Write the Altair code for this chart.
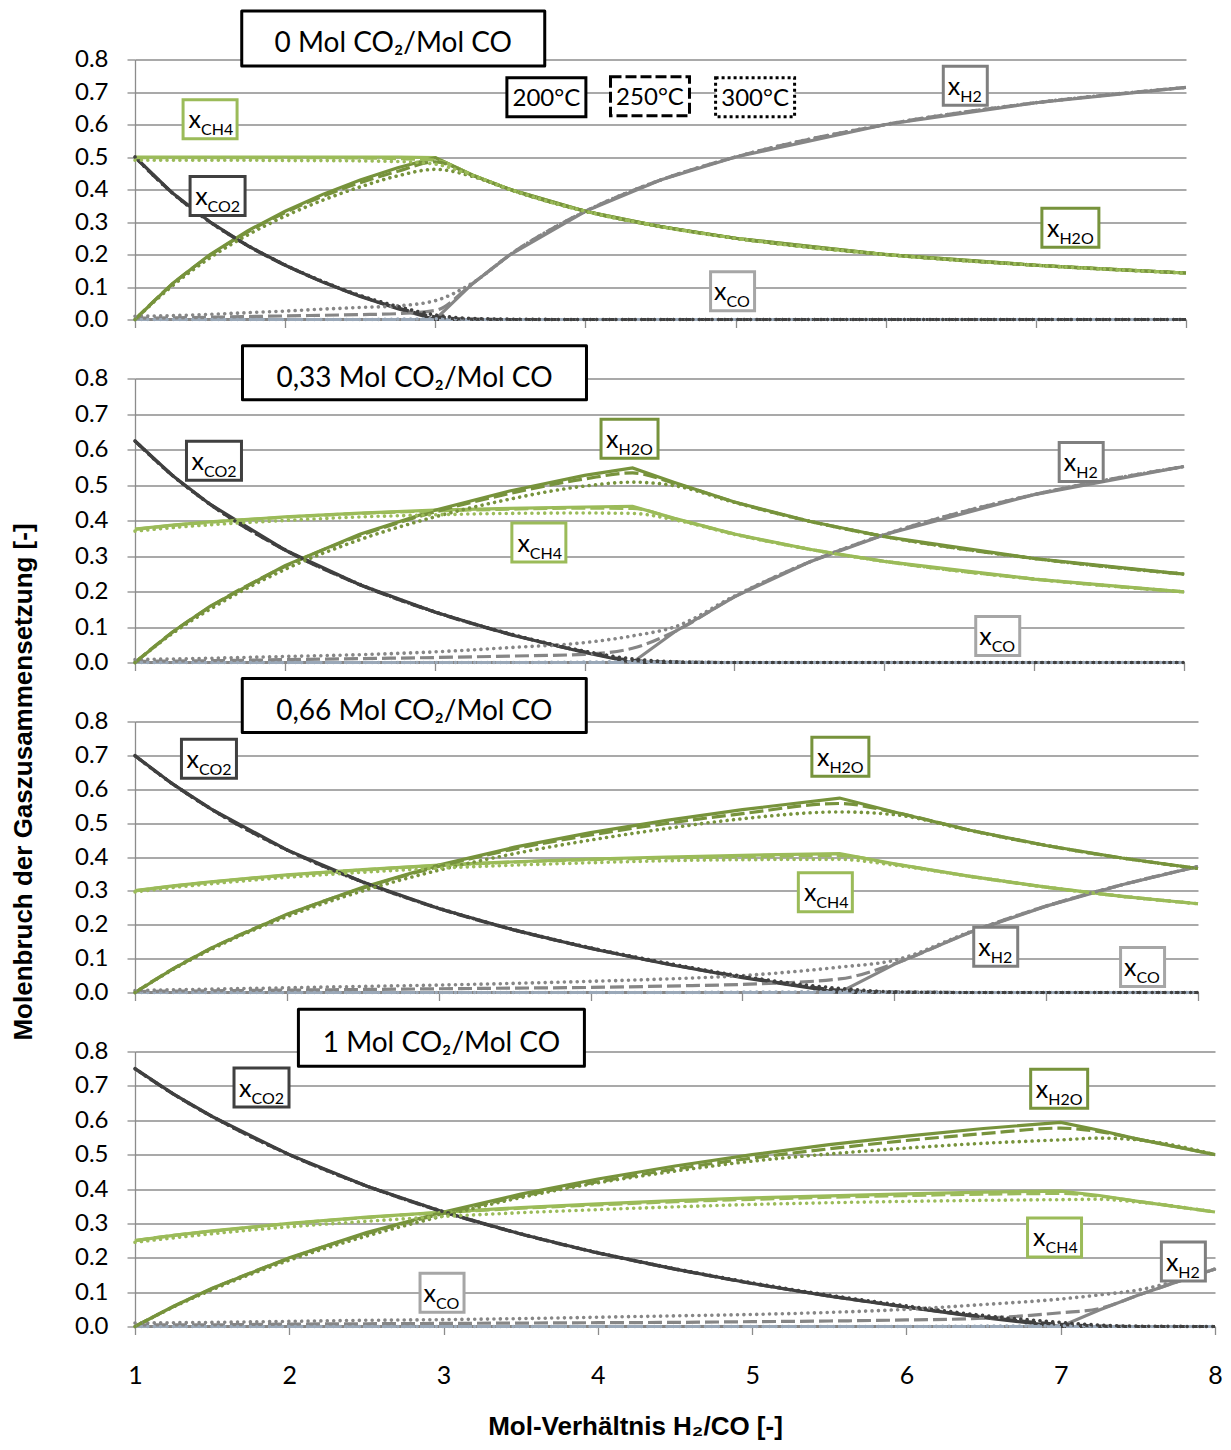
import altair as alt
import pandas as pd

# ---------------- data ----------------
# Panel 1: 0 Mol CO2/Mol CO
X1 = [1, 1.25, 1.5, 1.75, 2, 2.25, 2.5, 2.75, 3, 3.25, 3.5, 4, 4.5, 5, 6, 7, 8]
P1_CO2_200 = [0.5, 0.389, 0.3, 0.227, 0.167, 0.115, 0.071, 0.033, 0.0, 0.0, 0.0, 0.0, 0.0, 0.0, 0.0, 0.0, 0.0]
P1_CO2_250 = [0.5, 0.389, 0.3, 0.227, 0.167, 0.116, 0.072, 0.036, 0.008, 0.001, 0.0, 0.0, 0.0, 0.0, 0.0, 0.0, 0.0]
P1_CO2_300 = [0.5, 0.389, 0.3, 0.228, 0.168, 0.117, 0.074, 0.04, 0.014, 0.003, 0.001, 0.0, 0.0, 0.0, 0.0, 0.0, 0.0]
P1_CH4_200 = [0.5, 0.5, 0.5, 0.5, 0.5, 0.5, 0.5, 0.5, 0.498, 0.444, 0.4, 0.333, 0.286, 0.25, 0.2, 0.167, 0.143]
P1_CH4_250 = [0.498, 0.498, 0.498, 0.498, 0.498, 0.498, 0.497, 0.495, 0.49, 0.444, 0.4, 0.333, 0.286, 0.25, 0.2, 0.167, 0.143]
P1_CH4_300 = [0.49, 0.49, 0.49, 0.49, 0.489, 0.489, 0.488, 0.486, 0.478, 0.443, 0.4, 0.333, 0.286, 0.25, 0.2, 0.167, 0.143]
P1_H2O_200 = [0.0, 0.111, 0.2, 0.273, 0.333, 0.385, 0.429, 0.467, 0.498, 0.444, 0.4, 0.333, 0.286, 0.25, 0.2, 0.167, 0.143]
P1_H2O_250 = [0.0, 0.109, 0.197, 0.269, 0.329, 0.379, 0.421, 0.456, 0.485, 0.443, 0.4, 0.333, 0.286, 0.25, 0.2, 0.167, 0.143]
P1_H2O_300 = [0.0, 0.104, 0.19, 0.26, 0.318, 0.367, 0.408, 0.442, 0.462, 0.44, 0.399, 0.333, 0.286, 0.25, 0.2, 0.167, 0.143]
P1_H2_200 = [0.0, 0.0, 0.0, 0.0, 0.0, 0.0, 0.0, 0.0, 0.0, 0.111, 0.2, 0.333, 0.429, 0.5, 0.6, 0.667, 0.714]
P1_H2_250 = [0.004, 0.005, 0.007, 0.009, 0.011, 0.013, 0.015, 0.018, 0.028, 0.111, 0.2, 0.333, 0.429, 0.5, 0.6, 0.667, 0.714]
P1_H2_300 = [0.01, 0.012, 0.016, 0.021, 0.026, 0.032, 0.037, 0.042, 0.058, 0.113, 0.2, 0.333, 0.429, 0.5, 0.6, 0.667, 0.714]
P1_CO_200 = [0.0, 0.0, 0.0, 0.0, 0.0, 0.0, 0.0, 0.0, 0.0, 0.0, 0.0, 0.0, 0.0, 0.0, 0.0, 0.0, 0.0]
P1_CO_250 = [0.0, 0.0, 0.0, 0.0, 0.0, 0.0, 0.0, 0.0, 0.0, 0.0, 0.0, 0.0, 0.0, 0.0, 0.0, 0.0, 0.0]
P1_CO_300 = [0.0, 0.0, 0.0, 0.0, 0.0, 0.0, 0.0, 0.001, 0.002, 0.001, 0.0, 0.0, 0.0, 0.0, 0.0, 0.0, 0.0]

# Panel 2: 0,33 Mol CO2/Mol CO
X2 = [1, 1.25, 1.5, 2, 2.5, 3, 3.5, 4, 4.32, 4.6, 5, 5.5, 6, 7, 8]
P2_CO2_200 = [0.624, 0.527, 0.446, 0.317, 0.219, 0.142, 0.079, 0.028, 0.0, 0.0, 0.0, 0.0, 0.0, 0.0, 0.0]
P2_CO2_250 = [0.624, 0.527, 0.446, 0.317, 0.219, 0.142, 0.08, 0.03, 0.006, 0.001, 0.0, 0.0, 0.0, 0.0, 0.0]
P2_CO2_300 = [0.624, 0.527, 0.446, 0.318, 0.22, 0.143, 0.081, 0.032, 0.01, 0.002, 0.0, 0.0, 0.0, 0.0, 0.0]
P2_CH4_200 = [0.376, 0.387, 0.396, 0.41, 0.421, 0.429, 0.434, 0.438, 0.44, 0.406, 0.362, 0.319, 0.285, 0.235, 0.199]
P2_CH4_250 = [0.375, 0.386, 0.395, 0.409, 0.42, 0.427, 0.432, 0.435, 0.434, 0.405, 0.362, 0.319, 0.285, 0.235, 0.199]
P2_CH4_300 = [0.37, 0.38, 0.388, 0.4, 0.41, 0.416, 0.42, 0.421, 0.42, 0.402, 0.361, 0.319, 0.285, 0.235, 0.199]
P2_H2O_200 = [0.0, 0.086, 0.158, 0.273, 0.361, 0.429, 0.483, 0.527, 0.548, 0.507, 0.452, 0.398, 0.355, 0.293, 0.249]
P2_H2O_250 = [0.0, 0.085, 0.156, 0.27, 0.357, 0.424, 0.476, 0.517, 0.534, 0.505, 0.452, 0.398, 0.355, 0.293, 0.249]
P2_H2O_300 = [0.0, 0.082, 0.15, 0.262, 0.346, 0.41, 0.46, 0.497, 0.508, 0.498, 0.451, 0.398, 0.355, 0.293, 0.249]
P2_H2_200 = [0.0, 0.0, 0.0, 0.0, 0.0, 0.0, 0.0, 0.0, 0.0, 0.086, 0.185, 0.283, 0.36, 0.473, 0.552]
P2_H2_250 = [0.003, 0.004, 0.005, 0.008, 0.011, 0.014, 0.018, 0.023, 0.04, 0.087, 0.185, 0.283, 0.36, 0.473, 0.552]
P2_H2_300 = [0.008, 0.01, 0.012, 0.017, 0.022, 0.03, 0.042, 0.056, 0.075, 0.1, 0.187, 0.283, 0.36, 0.473, 0.552]
P2_CO_200 = [0.0, 0.0, 0.0, 0.0, 0.0, 0.0, 0.0, 0.0, 0.0, 0.0, 0.0, 0.0, 0.0, 0.0, 0.0]
P2_CO_250 = [0.0, 0.0, 0.0, 0.0, 0.0, 0.0, 0.0, 0.0, 0.0, 0.0, 0.0, 0.0, 0.0, 0.0, 0.0]
P2_CO_300 = [0.0, 0.0, 0.0, 0.0, 0.0, 0.0, 0.0, 0.001, 0.002, 0.001, 0.0, 0.0, 0.0, 0.0, 0.0]

# Panel 3: 0,66 Mol CO2/Mol CO
X3 = [1, 1.25, 1.5, 2, 2.5, 3, 3.5, 4, 4.5, 5, 5.64, 6, 6.5, 7, 7.5, 8]
P3_CO2_200 = [0.699, 0.615, 0.542, 0.421, 0.326, 0.248, 0.184, 0.13, 0.084, 0.044, 0.0, 0.0, 0.0, 0.0, 0.0, 0.0]
P3_CO2_250 = [0.699, 0.615, 0.542, 0.421, 0.326, 0.248, 0.184, 0.131, 0.085, 0.046, 0.007, 0.001, 0.0, 0.0, 0.0, 0.0]
P3_CO2_300 = [0.699, 0.615, 0.542, 0.421, 0.326, 0.249, 0.185, 0.132, 0.087, 0.048, 0.012, 0.002, 0.0, 0.0, 0.0, 0.0]
P3_CH4_200 = [0.301, 0.315, 0.327, 0.347, 0.363, 0.376, 0.386, 0.394, 0.4, 0.405, 0.41, 0.38, 0.343, 0.311, 0.284, 0.262]
P3_CH4_250 = [0.3, 0.314, 0.326, 0.346, 0.362, 0.375, 0.385, 0.392, 0.397, 0.401, 0.404, 0.379, 0.343, 0.311, 0.284, 0.262]
P3_CH4_300 = [0.297, 0.31, 0.321, 0.34, 0.355, 0.367, 0.376, 0.383, 0.389, 0.392, 0.393, 0.376, 0.343, 0.311, 0.284, 0.262]
P3_H2O_200 = [0.0, 0.07, 0.131, 0.231, 0.311, 0.376, 0.429, 0.472, 0.508, 0.54, 0.574, 0.533, 0.479, 0.434, 0.397, 0.366]
P3_H2O_250 = [0.0, 0.07, 0.13, 0.229, 0.308, 0.372, 0.424, 0.465, 0.499, 0.528, 0.558, 0.532, 0.479, 0.434, 0.397, 0.366]
P3_H2O_300 = [0.0, 0.068, 0.127, 0.224, 0.3, 0.361, 0.41, 0.45, 0.484, 0.513, 0.533, 0.525, 0.478, 0.434, 0.397, 0.366]
P3_H2_200 = [0.0, 0.0, 0.0, 0.0, 0.0, 0.0, 0.0, 0.0, 0.0, 0.0, 0.0, 0.083, 0.178, 0.255, 0.318, 0.372]
P3_H2_250 = [0.003, 0.004, 0.005, 0.007, 0.009, 0.011, 0.013, 0.015, 0.019, 0.024, 0.04, 0.085, 0.178, 0.255, 0.318, 0.372]
P3_H2_300 = [0.006, 0.008, 0.01, 0.014, 0.018, 0.022, 0.027, 0.033, 0.04, 0.05, 0.075, 0.095, 0.179, 0.255, 0.318, 0.372]
P3_CO_200 = [0.0, 0.0, 0.0, 0.0, 0.0, 0.0, 0.0, 0.0, 0.0, 0.0, 0.0, 0.0, 0.0, 0.0, 0.0, 0.0]
P3_CO_250 = [0.0, 0.0, 0.0, 0.0, 0.0, 0.0, 0.0, 0.0, 0.0, 0.0, 0.0, 0.0, 0.0, 0.0, 0.0, 0.0]
P3_CO_300 = [0.0, 0.0, 0.0, 0.0, 0.0, 0.0, 0.0, 0.0, 0.0, 0.001, 0.002, 0.001, 0.0, 0.0, 0.0, 0.0]

# Panel 4: 1 Mol CO2/Mol CO
X4 = [1, 1.25, 1.5, 2, 2.5, 3, 3.5, 4, 4.5, 5, 5.5, 6, 6.5, 7, 7.25, 7.5, 8]
P4_CO2_200 = [0.75, 0.676, 0.611, 0.5, 0.409, 0.333, 0.269, 0.214, 0.167, 0.125, 0.088, 0.056, 0.026, 0.0, 0.0, 0.0, 0.0]
P4_CO2_250 = [0.75, 0.676, 0.611, 0.5, 0.409, 0.333, 0.269, 0.214, 0.167, 0.125, 0.089, 0.057, 0.028, 0.006, 0.001, 0.0, 0.0]
P4_CO2_300 = [0.75, 0.676, 0.611, 0.5, 0.409, 0.334, 0.27, 0.215, 0.168, 0.127, 0.091, 0.06, 0.032, 0.012, 0.004, 0.001, 0.0]
P4_CH4_200 = [0.25, 0.265, 0.278, 0.3, 0.318, 0.333, 0.346, 0.357, 0.366, 0.374, 0.38, 0.386, 0.391, 0.394, 0.381, 0.364, 0.333]
P4_CH4_250 = [0.25, 0.265, 0.277, 0.299, 0.317, 0.332, 0.344, 0.354, 0.363, 0.37, 0.376, 0.381, 0.385, 0.387, 0.379, 0.364, 0.333]
P4_CH4_300 = [0.245, 0.258, 0.27, 0.29, 0.306, 0.32, 0.331, 0.34, 0.348, 0.355, 0.36, 0.364, 0.367, 0.369, 0.37, 0.362, 0.333]
P4_H2O_200 = [0.0, 0.059, 0.111, 0.2, 0.273, 0.333, 0.385, 0.429, 0.467, 0.5, 0.529, 0.554, 0.576, 0.594, 0.571, 0.545, 0.5]
P4_H2O_250 = [0.0, 0.058, 0.11, 0.198, 0.27, 0.329, 0.379, 0.421, 0.458, 0.49, 0.517, 0.541, 0.561, 0.577, 0.567, 0.545, 0.5]
P4_H2O_300 = [0.0, 0.057, 0.107, 0.193, 0.263, 0.322, 0.375, 0.418, 0.452, 0.481, 0.502, 0.519, 0.533, 0.543, 0.548, 0.543, 0.5]
P4_H2_200 = [0.0, 0.0, 0.0, 0.0, 0.0, 0.0, 0.0, 0.0, 0.0, 0.0, 0.0, 0.0, 0.0, 0.0, 0.048, 0.091, 0.167]
P4_H2_250 = [0.004, 0.005, 0.005, 0.007, 0.008, 0.009, 0.01, 0.011, 0.012, 0.014, 0.016, 0.019, 0.024, 0.04, 0.052, 0.091, 0.167]
P4_H2_300 = [0.01, 0.011, 0.012, 0.015, 0.018, 0.02, 0.023, 0.027, 0.031, 0.035, 0.041, 0.05, 0.064, 0.08, 0.092, 0.106, 0.167]
P4_CO_200 = [0.0, 0.0, 0.0, 0.0, 0.0, 0.0, 0.0, 0.0, 0.0, 0.0, 0.0, 0.0, 0.0, 0.0, 0.0, 0.0, 0.0]
P4_CO_250 = [0.0, 0.0, 0.0, 0.0, 0.0, 0.0, 0.0, 0.0, 0.0, 0.0, 0.0, 0.0, 0.0, 0.0, 0.0, 0.0, 0.0]
P4_CO_300 = [0.0, 0.0, 0.0, 0.0, 0.0, 0.0, 0.0, 0.0, 0.0, 0.0, 0.0, 0.0, 0.001, 0.002, 0.001, 0.0, 0.0]

# label boxes (species label, anchor x, anchor y)
P1_LAB_KIND = ["CH4", "CO2", "H2", "H2O", "CO"]
P1_LAB_X = [1.50, 1.55, 6.53, 7.23, 4.98]
P1_LAB_Y = [0.616, 0.380, 0.719, 0.282, 0.087]
P2_LAB_KIND = ["CO2", "H2O", "CH4", "H2", "CO"]
P2_LAB_X = [1.527, 4.30, 3.695, 7.314, 6.757]
P2_LAB_Y = [0.568, 0.630, 0.338, 0.565, 0.075]
P3_LAB_KIND = ["CO2", "H2O", "CH4", "H2", "CO"]
P3_LAB_X = [1.487, 5.645, 5.546, 6.668, 7.635]
P3_LAB_Y = [0.690, 0.696, 0.296, 0.135, 0.075]
P4_LAB_KIND = ["CO2", "CO", "H2O", "CH4", "H2"]
P4_LAB_X = [1.82, 2.99, 6.99, 6.96, 7.795]
P4_LAB_Y = [0.695, 0.098, 0.692, 0.259, 0.189]

TITLES = ["0 Mol CO\u2082/Mol CO", "0,33 Mol CO\u2082/Mol CO", "0,66 Mol CO\u2082/Mol CO", "1 Mol CO\u2082/Mol CO"]
TITLE_X = [2.72, 2.865, 2.839, 2.986]
TITLE_Y = [0.865, 0.816, 0.847, 0.840]

TEMP_LABELS = ["200°C", "250°C", "300°C"]
TEMP_X = [3.74, 4.43, 5.13]
TEMP_Y = [0.684, 0.687, 0.684]

X_TICKS = [1, 2, 3, 4, 5, 6, 7, 8]
Y_TICKS = [0.0, 0.1, 0.2, 0.3, 0.4, 0.5, 0.6, 0.7, 0.8]

# ---------------- styles ----------------
GRID = "#8C8C8C"
LINE_COLOR = {"CO": "#9AA8B8", "H2": "#868686", "CO2": "#404040", "CH4": "#9BBB59", "H2O": "#77933C"}
BOX_COLOR = {"CO": "#A6A6A6", "H2": "#7F7F7F", "CO2": "#404040", "CH4": "#9BBB59", "H2O": "#77933C"}
BOX_W = {"CO2": 58, "CH4": 57, "H2O": 60, "H2": 47, "CO": 47}
SPLIT = {"CO2": -10, "CH4": -9, "H2O": -11, "H2": -5, "CO": -6}
TITLE_BOX = [(306, 58), (347, 57), (347, 57), (289, 60)]
WIDTHS = [1051, 1049, 1063, 1080]
HEIGHTS = [260, 284, 271, 275]
FONT = "Lato"
BOLD_FONT = "Liberation Sans"


def rect_path(w, h):
    hw = w / 2 - 1.5
    hh = h / 2 - 1.5
    return f"M{-hw},{-hh}L{hw},{-hh}L{hw},{hh}L{-hw},{hh}Z"


def make_panel(i, X, series, kinds, lxs, lys, last, ytitle, legend):
    if last:
        xaxis = alt.Axis(values=X_TICKS, format="d", labels=True, labelFont=FONT, labelFontSize=25,
                         labelColor="black", labelPadding=29, labelFlush=False, tickSize=8,
                         tickColor=GRID, tickWidth=1.3, domainColor=GRID, domainWidth=1.3, grid=False,
                         title="Mol-Verhältnis H\u2082/CO [-]", titleFont=BOLD_FONT, titleFontSize=26,
                         titleFontWeight="bold", titleColor="black", titleX=500, titleY=108,
                         titleAlign="center", titleBaseline="alphabetic")
    else:
        xaxis = alt.Axis(values=X_TICKS, labels=False, tickSize=8, tickColor=GRID, tickWidth=1.3,
                         domainColor=GRID, domainWidth=1.3, grid=False, title=None)
    yargs = dict(values=Y_TICKS, format=".1f", labelFont=FONT, labelFontSize=24, labelColor="black",
                 labelPadding=19, tickSize=8, tickColor=GRID, tickWidth=1.3, domainColor=GRID,
                 domainWidth=1.3, grid=True, gridColor=GRID, gridWidth=1.3)
    if ytitle:
        yaxis = alt.Axis(title="Molenbruch der Gaszusammensetzung [-]", titleFont=BOLD_FONT,
                         titleFontSize=26, titleFontWeight="bold", titleColor="black", titleAngle=270,
                         titleX=-103.5, titleY=60, titleAlign="center", titleBaseline="alphabetic",
                         **yargs)
    else:
        yaxis = alt.Axis(title=None, **yargs)
    xenc = alt.X("x:Q", scale=alt.Scale(domain=[1, 8], nice=False, zero=False), axis=xaxis)
    yenc = alt.Y("y:Q", scale=alt.Scale(domain=[0, 0.8], nice=False), axis=yaxis)

    layers = []
    styles = [
        (200, {"strokeWidth": 3.2}, "linear", ["CO", "H2", "CO2", "CH4", "H2O"]),
        (250, {"strokeWidth": 3.2, "strokeDash": [14, 5]}, "monotone", ["CO", "H2", "CO2", "CH4", "H2O"]),
        (300, {"strokeWidth": 3.6, "strokeDash": [0.01, 6.4], "strokeCap": "round"}, "monotone",
         ["CO", "H2", "CO2", "H2O", "CH4"]),
    ]
    for temp, extra, interp, order in styles:
        for sp in order:
            df = pd.DataFrame({"x": X, "y": series[(sp, temp)]})
            layers.append(alt.Chart(df).mark_line(color=LINE_COLOR[sp], interpolate=interp, **extra)
                          .encode(x=xenc, y=yenc))

    for k, lx, ly in zip(kinds, lxs, lys):
        base = alt.Chart(pd.DataFrame({"x": [lx], "y": [ly]})).encode(x=xenc, y=yenc)
        layers.append(base.mark_point(shape=rect_path(BOX_W[k], 42), size=4, filled=True, fill="white",
                                      stroke=BOX_COLOR[k], strokeWidth=3, opacity=1))
        layers.append(base.mark_text(text="x", font=FONT, fontSize=25, align="right", baseline="alphabetic",
                                     dx=SPLIT[k], dy=9, color="black"))
        layers.append(base.mark_text(text=k, font=FONT, fontSize=16, align="left", baseline="alphabetic",
                                     dx=SPLIT[k], dy=16, color="black"))

    tb = alt.Chart(pd.DataFrame({"x": [TITLE_X[i]], "y": [TITLE_Y[i]]})).encode(x=xenc, y=yenc)
    layers.append(tb.mark_point(shape=rect_path(*TITLE_BOX[i]), size=4, filled=True, fill="white",
                                stroke="black", strokeWidth=3, strokeJoin="round", opacity=1))
    layers.append(tb.mark_text(text=TITLES[i], font=FONT, fontSize=28, align="center",
                               baseline="alphabetic", dy=14, color="black"))

    if legend:
        dashes = [None, [11, 4], [3, 3]]
        for lab, tx, ty, d in zip(TEMP_LABELS, TEMP_X, TEMP_Y, dashes):
            b = alt.Chart(pd.DataFrame({"x": [tx], "y": [ty]})).encode(x=xenc, y=yenc)
            kw = {} if d is None else {"strokeDash": d}
            layers.append(b.mark_point(shape=rect_path(82, 42), size=4, filled=True, fill="white",
                                       stroke="black", strokeWidth=3, opacity=1, **kw))
            layers.append(b.mark_text(text=lab, font=FONT, fontSize=24, align="center",
                                      baseline="alphabetic", dy=9, color="black"))

    return alt.layer(*layers).properties(width=WIDTHS[i], height=HEIGHTS[i])


def series_dict(prefix):
    g = globals()
    out = {}
    for sp in ["CO", "H2", "CO2", "CH4", "H2O"]:
        for t in [200, 250, 300]:
            out[(sp, t)] = g[f"{prefix}_{sp}_{t}"]
    return out


p1 = make_panel(0, X1, series_dict("P1"), P1_LAB_KIND, P1_LAB_X, P1_LAB_Y, False, False, True)
p2 = make_panel(1, X2, series_dict("P2"), P2_LAB_KIND, P2_LAB_X, P2_LAB_Y, False, False, False)
p3 = make_panel(2, X3, series_dict("P3"), P3_LAB_KIND, P3_LAB_X, P3_LAB_Y, False, True, False)
p4 = make_panel(3, X4, series_dict("P4"), P4_LAB_KIND, P4_LAB_X, P4_LAB_Y, True, False, False)

chart = alt.vconcat(p1, p2, p3, p4, spacing=59, bounds="flush").properties(
    padding={"left": 2, "top": 0.5, "right": 0, "bottom": 0}
).configure_view(stroke=None)

chart.save("out.html", embed_options={"renderer": "svg", "actions": False})
